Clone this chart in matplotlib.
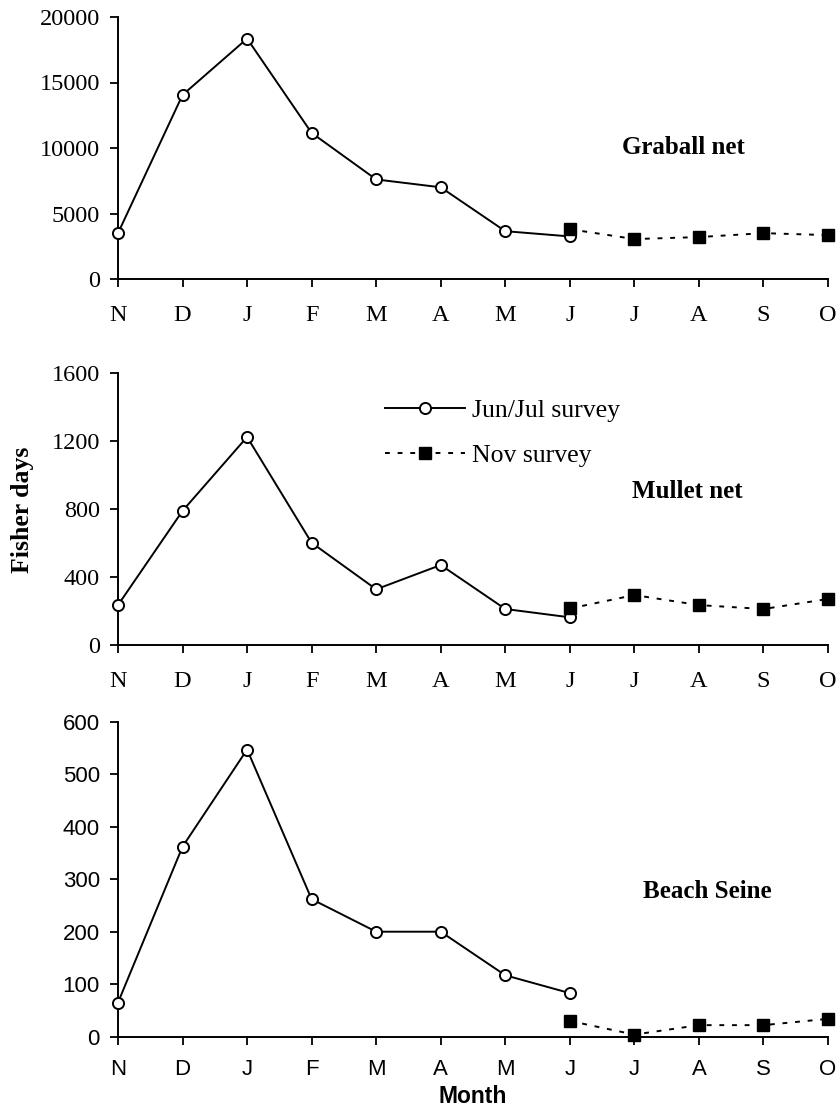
import numpy as np
import matplotlib.pyplot as plt

months = ['N', 'D', 'J', 'F', 'M', 'A', 'M', 'J', 'J', 'A', 'S', 'O']

# Jun/Jul survey covers N..J, Nov survey covers J..O
junjul_idx = np.arange(0, 8)
nov_idx = np.arange(7, 12)

graball_junjul = [3500, 14050, 18350, 11150, 7600, 7000, 3650, 3250]
graball_nov = [3800, 3050, 3200, 3500, 3350]

mullet_junjul = [235, 790, 1225, 602, 328, 471, 212, 163]
mullet_nov = [215, 294, 235, 212, 271]

seine_junjul = [65, 362, 547, 262, 200, 200, 117, 83]
seine_nov = [30, 4, 22, 22, 34]

panels = [
    ('Graball net', graball_junjul, graball_nov, 20000, 5000, (0.797, 0.50)),
    ('Mullet net', mullet_junjul, mullet_nov, 1600, 400, (0.802, 0.564)),
    ('Beach Seine', seine_junjul, seine_nov, 600, 100, (0.830, 0.46)),
]

SERIF = 'Liberation Serif'
SANS = 'Liberation Sans'

W, H = 840, 1109
fig = plt.figure(figsize=(W / 100, H / 100), dpi=100)

# axes boxes in pixels: (left, top, right, bottom)
boxes = [(118, 17, 828, 279), (118, 373.3, 828, 645), (118, 721.7, 828, 1036.7)]

axes = []
for i, ((name, jj, nv, ymax, ystep, lab), box) in enumerate(zip(panels, boxes)):
    l, t, r, b = box
    ax = fig.add_axes([l / W, 1 - b / H, (r - l) / W, (b - t) / H])
    tick_font = SANS if i == 2 else SERIF

    ax.plot(junjul_idx, jj, color='black', lw=1.4, marker='o', ms=8,
            mfc='white', mec='black', mew=1.4, label='Jun/Jul survey',
            zorder=3, clip_on=False)
    ax.plot(nov_idx, nv, color='black', lw=1.4, ls=(0, (2.5, 4)), marker='s',
            ms=8.5, mfc='black', mec='black', label='Nov survey',
            zorder=4, clip_on=False)

    ax.set_xlim(0, 11)
    ax.set_ylim(0, ymax)
    ax.set_xticks(range(len(months)))
    ax.set_xticklabels(months)
    ax.set_yticks(np.arange(0, ymax + 1, ystep))
    for s in ['top', 'right']:
        ax.spines[s].set_visible(False)
    for s in ['left', 'bottom']:
        ax.spines[s].set_linewidth(1.4)
    ax.tick_params(direction='out', length=6, width=1.3, pad=7,
                   labelsize=17.5 if i < 2 else 16)
    ax.tick_params(axis='x', pad=13 if i < 2 else 10)
    for lbl in ax.get_xticklabels() + ax.get_yticklabels():
        lbl.set_family(tick_font)

    ax.text(lab[0], lab[1], name, transform=ax.transAxes, ha='center',
            va='center', fontsize=18, fontweight='bold', family=SERIF)
    axes.append(ax)

leg = axes[1].legend(loc='upper left', bbox_to_anchor=(385 / W, 1 - 399 / H),
                     bbox_transform=fig.transFigure, frameon=False,
                     borderpad=0, borderaxespad=0, handlelength=3.1,
                     handletextpad=0.3, labelspacing=0.85,
                     prop={'family': SERIF, 'size': 18.5})

axes[2].set_xlabel('Month', fontsize=16.5, fontweight='bold', family=SANS,
                   labelpad=4)

fig.text(23 / W, 1 - 510 / H, 'Fisher days', rotation=90, ha='center',
         va='center', fontsize=18.5, fontweight='bold', family=SERIF)

fig.savefig('out.png', dpi=100)
